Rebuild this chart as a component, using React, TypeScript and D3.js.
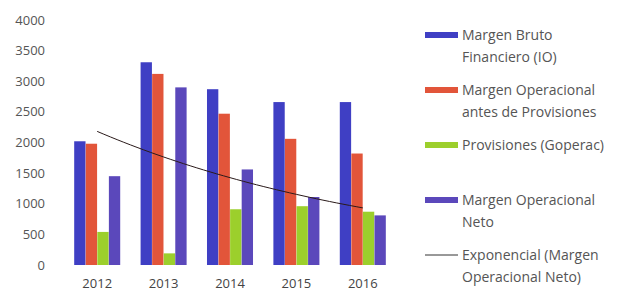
import React from 'react';
import * as d3 from 'd3';

const years = ['2012', '2013', '2014', '2015', '2016'];
const margenBruto = [2020, 3310, 2870, 2660, 2660];
const margenAntesProv = [1980, 3120, 2470, 2060, 1820];
const provisiones = [540, 190, 910, 960, 870];
const margenNeto = [1450, 2900, 1560, 1110, 810];
const yTicks = [0, 500, 1000, 1500, 2000, 2500, 3000, 3500, 4000];

const seriesNames = ['bruto', 'antes', 'prov', 'neto'];
const colors = ['#3f3fc4', '#e2553a', '#9ccf2c', '#5b48bb'];

const legendItems = [
  { kind: 'bar', color: colors[0], lines: ['Margen Bruto', 'Financiero (IO)'], y: 35 },
  { kind: 'bar', color: colors[1], lines: ['Margen Operacional', 'antes de Provisiones'], y: 90 },
  { kind: 'bar', color: colors[2], lines: ['Provisiones (Goperac)'], y: 145 },
  { kind: 'bar', color: colors[3], lines: ['Margen Operacional', 'Neto'], y: 200 },
  { kind: 'line', color: '#333', lines: ['Exponencial (Margen', 'Operacional Neto)'], y: 255 },
];

export default function App() {
  const width = 622;
  const height = 291;
  const margin = { top: 20, left: 64, right: 226, bottom: 26 };
  const plotBottom = height - margin.bottom;

  const x = d3.scaleBand<string>().domain(years).range([margin.left, width - margin.right]).paddingInner(0.3).paddingOuter(0.15);
  const inner = d3.scaleBand<string>().domain(seriesNames).range([0, x.bandwidth()]).padding(0.02);
  const y = d3.scaleLinear().domain([0, 4000]).range([plotBottom, margin.top]);

  const allSeries = [margenBruto, margenAntesProv, provisiones, margenNeto];

  // exponential trend fitted to Margen Operacional Neto
  const idx = margenNeto.map((_, i) => i + 1);
  const lnV = margenNeto.map(v => Math.log(v));
  const mx = d3.mean(idx)!;
  const my = d3.mean(lnV)!;
  const slope = d3.sum(idx.map((xi, i) => (xi - mx) * (lnV[i] - my))) / d3.sum(idx.map(xi => (xi - mx) ** 2));
  const icpt = my - slope * mx;
  const tx = d3.scaleLinear().domain([1, years.length]).range([x(years[0])! + x.bandwidth() / 2, x(years[years.length - 1])! + x.bandwidth() / 2]);
  const trendPts = d3.range(1, years.length + 0.001, 0.1).map(t => [tx(t), y(Math.exp(icpt + slope * t))] as [number, number]);
  const trendPath = d3.line()(trendPts) || '';

  const font = '"Open Sans", sans-serif';

  return (
    <div style={{ position: 'absolute', left: 0, top: 0 }}>
      <svg width={width} height={height} style={{ display: 'block', background: '#fff' }}>
        {yTicks.map(t => (
          <text key={t} x={45} y={y(t)} dy="0.35em" textAnchor="end" fontFamily={font} fontSize={13} fill="#555">
            {t}
          </text>
        ))}
        {years.map((yr, i) => (
          <g key={yr}>
            {allSeries.map((s, k) => (
              <rect
                key={k}
                x={x(yr)! + inner(seriesNames[k])!}
                y={y(s[i])}
                width={inner.bandwidth()}
                height={plotBottom - y(s[i])}
                fill={colors[k]}
              />
            ))}
            <text x={x(yr)! + x.bandwidth() / 2} y={plotBottom + 23} textAnchor="middle" fontFamily={font} fontSize={13} fill="#444">
              {yr}
            </text>
          </g>
        ))}
        <path d={trendPath} fill="none" stroke="#2a1a1a" strokeWidth={1} />
        {legendItems.map((it, i) => (
          <g key={i}>
            {it.kind === 'bar' ? (
              <rect x={425} y={it.y - 3} width={33} height={6} fill={it.color} />
            ) : (
              <line x1={425} x2={458} y1={it.y} y2={it.y} stroke={it.color} strokeWidth={1} />
            )}
            {it.lines.map((ln, j) => (
              <text key={j} x={462} y={it.y + j * 22} dy="0.35em" fontFamily={font} fontSize={14} fill="#555">
                {ln}
              </text>
            ))}
          </g>
        ))}
      </svg>
    </div>
  );
}
